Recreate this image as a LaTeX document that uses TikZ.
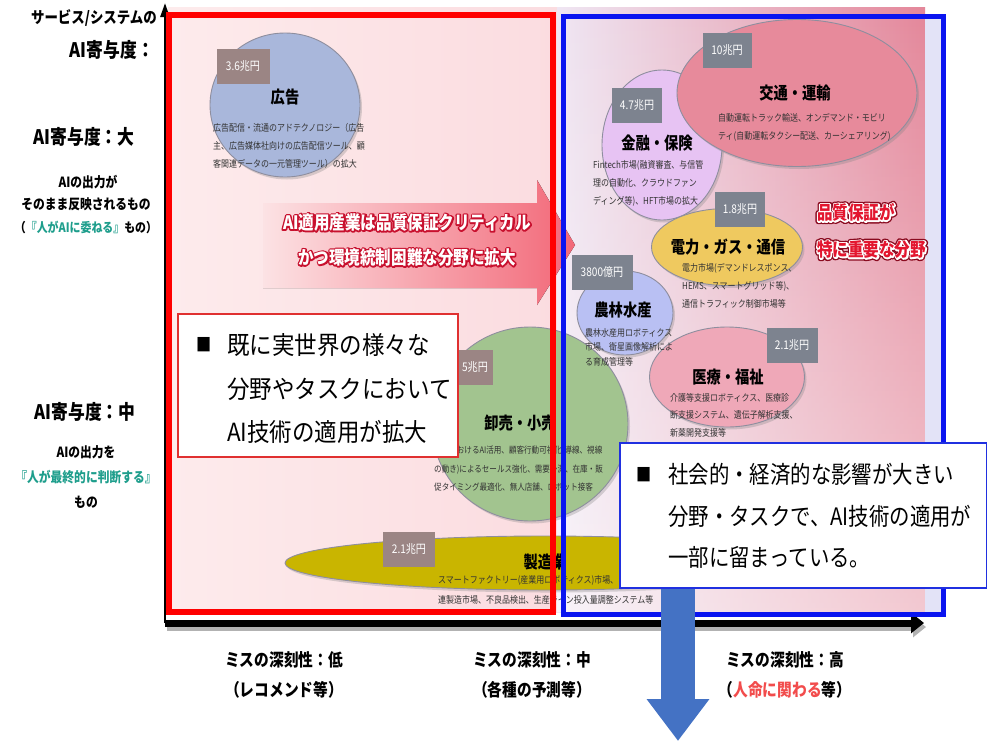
\documentclass[tikz,border=0pt]{standalone}
\usepackage{fontspec}
\usepackage{graphicx}
\setmainfont{Noto Sans CJK JP}[FakeStretch=0.84]
\newfontfamily\jpn{Noto Sans CJK JP}[FakeStretch=0.9]
\newfontfamily\jpnc{Noto Sans CJK JP}[FakeStretch=0.85]
\usetikzlibrary{shapes.geometric,shadows,arrows.meta,fadings}
\definecolor{bgL}{HTML}{FDEBEC}
\definecolor{bgR}{HTML}{FBDCE0}
\definecolor{lavA}{HTML}{EFE6F3}
\definecolor{pinkA}{HTML}{E4879A}
\definecolor{stripc}{HTML}{E3E3F7}
\definecolor{arrL}{HTML}{FCE2E4}
\definecolor{arrR}{HTML}{F26878}
\definecolor{olred}{HTML}{C8102E}
\definecolor{qred}{HTML}{E3162F}
\definecolor{qdark}{HTML}{8A0A1E}
\definecolor{adblue}{HTML}{A9B7DB}
\definecolor{trpink}{HTML}{E78A9B}
\definecolor{finvio}{HTML}{E7C3F3}
\definecolor{engold}{HTML}{EFC95F}
\definecolor{agblue}{HTML}{B9C0F3}
\definecolor{medpink}{HTML}{EFA8B8}
\definecolor{retgreen}{HTML}{A2C48F}
\definecolor{mfolive}{HTML}{C9B500}
\definecolor{valgray}{HTML}{7D838F}
\definecolor{valbrown}{HTML}{9B8584}
\definecolor{frred}{HTML}{FF0000}
\definecolor{frblue}{HTML}{0A14F0}
\definecolor{boxred}{HTML}{E03030}
\definecolor{boxblue}{HTML}{2030E0}
\definecolor{tealc}{HTML}{1E9E8C}
\definecolor{lifered}{HTML}{F24C4C}
\definecolor{ellline}{HTML}{8E8E9E}
\definecolor{arrowblue}{HTML}{4472C4}
\definecolor{smalltxt}{HTML}{333333}
\newcommand{\strokeon}[2]{\special{pdf:literal direct 1 Tr #1 w #2 RG 1 j}}
\newcommand{\strokeoff}{\special{pdf:literal direct 0 Tr}}
\tikzset{
 ell/.style={ellipse, draw=ellline, line width=0.9pt, inner sep=0pt,
   drop shadow={shadow xshift=2pt, shadow yshift=-2.5pt, opacity=0.3}},
 valbox/.style={fill=valgray, text=white, inner sep=0pt, minimum height=35pt,
   font=\fontsize{12}{14}\selectfont},
 ttl/.style={inner sep=0pt, font=\bfseries\fontsize{17}{20}\selectfont},
 small/.style={inner sep=0pt, align=left, text=smalltxt, font=\fontsize{9.5}{18}\selectfont},
 side/.style={inner sep=0pt, font=\bfseries\fontsize{14}{17}\selectfont},
 sidebig/.style={inner sep=0pt, font=\bfseries\fontsize{20}{24}\selectfont},
 bottomlbl/.style={inner sep=0pt, font=\bfseries\fontsize{17.5}{20}\selectfont},
 boxtxt/.style={inner sep=0pt, align=left, anchor=west},
 arrfont/.style={inner sep=0pt, align=center, font=\bfseries\fontsize{18.5}{35}\selectfont},
 qfont/.style={inner sep=0pt, align=left, anchor=west, font=\bfseries\fontsize{18.5}{37}\selectfont},
 axisline/.style={line width=7pt, black, -{Triangle[length=13pt,width=20pt]}},
 axisshadow/.style={line width=7pt, black!30, -{Triangle[length=13pt,width=20pt]}},
 vaxisline/.style={line width=2.5pt, black, -{Triangle[length=14pt,width=9pt]}},
 redframe/.style={draw=frred, line width=6pt},
 blueframe/.style={draw=frblue, line width=5pt},
 bluearr/.style={draw=arrowblue, line width=34pt, -{Triangle[length=42pt,width=60pt]}},
}
\begin{document}
\begin{tikzpicture}[x=1pt,y=-1pt]
\useasboundingbox (0,0) rectangle (988,742);
\fill[white] (0,0) rectangle (988,742);
% backgrounds
\shade[left color=bgL, right color=bgR] (168,7) rectangle (557,612);
\shade[left color=lavA, right color=pinkA] (557,7) rectangle (925,612);
\fill[white, path fading=north, fill opacity=0.55] (557,7) rectangle (925,612);
\fill[stripc] (925,14) rectangle (943,612);
% axes
\coordinate (O) at (165,623);
\coordinate (xend) at (924,623);
\coordinate (yend) at (165,3);
\coordinate (Os) at (167,627);
\coordinate (xends) at (926,627);
\draw[axisshadow] (Os) -- (xends);
\draw[axisline] (O) -- (xend);
\draw[vaxisline] (O) -- (yend);
% big pink arrow
\fill[left color=arrL, right color=arrR] (263,203) -- (537,203) -- (537,180) -- (575,245) -- (537,305) -- (537,288) -- (263,288) -- cycle;
\node[arrfont, text=olred] (arrtxt-o) at (407,240) {\strokeon{3}{0.784 0.063 0.18}AI適用産業は品質保証クリティカル\\かつ環境統制困難な分野に拡大\strokeoff};
\node[arrfont, text=white] (arrtxt) at (407,240) {AI適用産業は品質保証クリティカル\\かつ環境統制困難な分野に拡大};
% ellipses
\node[ell, fill=adblue, minimum width=150pt, minimum height=144pt] (ad) at (285,105) {};
\node[ell, fill=finvio, minimum width=120pt, minimum height=150pt] (fin) at (662,145) {};
\node[ell, fill=trpink, minimum width=240pt, minimum height=147pt] (tr) at (797,93) {};
\node[ell, fill=engold, minimum width=151pt, minimum height=77pt] (en) at (727,247) {};
\node[ell, fill=retgreen, minimum width=196pt, minimum height=194pt] (ret) at (530,424) {};
\node[ell, fill=agblue, minimum width=96pt, minimum height=84pt] (ag) at (625,313) {};
\node[ell, fill=medpink, minimum width=155pt, minimum height=100pt] (med) at (727,377) {};
\node[ell, fill=mfolive, minimum width=520pt, minimum height=54pt] (mf) at (545,563) {};
% value boxes
\node[valbox, fill=valbrown, minimum width=53pt] (v-ad) at (243,66) {3.6兆円};
\node[valbox, minimum width=49pt] (v-tr) at (727,50) {10兆円};
\node[valbox, minimum width=50pt] (v-fin) at (637,105) {4.7兆円};
\node[valbox, minimum width=50pt] (v-en) at (740,209) {1.8兆円};
\node[valbox, minimum width=61pt] (v-ag) at (602,272) {3800億円};
\node[valbox, minimum width=51pt] (v-med) at (792,345) {2.1兆円};
\node[valbox, fill=valbrown, minimum width=36pt] (v-ret) at (475,367) {5兆円};
\node[valbox, fill=valbrown, minimum width=52pt] (v-mf) at (409,549) {2.1兆円};
% titles
\node[ttl] (t-ad) at (285,97) {広告};
\node[ttl] (t-tr) at (795,93) {交通・運輸};
\node[ttl] (t-fin) at (657,143) {金融・保険};
\node[ttl] (t-en) at (728,247) {電力・ガス・通信};
\node[ttl] (t-ag) at (623,310) {農林水産};
\node[ttl] (t-med) at (728,377) {医療・福祉};
\node[ttl] (t-ret) at (520,423) {卸売・小売};
\node[ttl] (t-mf) at (545,562) {製造業};
% small texts
\node[small, anchor=north west] (d-ad) at (213,123) {広告配信・流通のアドテクノロジー（広告\\主、広告媒体社向けの広告配信ツール、顧\\客関連データの一元管理ツール）の拡大};
\node[small, anchor=north west] (d-tr) at (718,113) {自動運転トラック輸送、オンデマンド・モビリ\\ティ(自動運転タクシー配送、カーシェアリング)};
\node[small, anchor=north west] (d-fin) at (593,160) {Fintech市場(融資審査、与信管\\理の自動化、クラウドファン\\ディング等)、HFT市場の拡大};
\node[small, anchor=north west] (d-en) at (682,263) {電力市場(デマンドレスポンス、\\HEMS、スマートグリッド等)、\\通信トラフィック制御市場等};
\node[small, anchor=north west, font=\fontsize{9.5}{14.5}\selectfont] (d-ag) at (585,328) {農林水産用ロボティクス\\市場、衛星画像解析によ\\る育成管理等};
\node[small, anchor=north west, font=\fontsize{9.5}{17.5}\selectfont] (d-med) at (670,393) {介護等支援ロボティクス、医療診\\断支援システム、遺伝子解析支援、\\新薬開発支援等};
\node[small, anchor=north west, font=\fontsize{9}{18.5}\selectfont] (d-ret) at (434,446) {店舗におけるAI活用、顧客行動可視化(導線、視線\\の動き)によるセールス強化、需要予測、在庫・販\\促タイミング最適化、無人店舗、ロボット接客};
\node[small, anchor=north west, font=\fontsize{9.5}{20}\selectfont] (d-mf) at (438,575) {スマートファクトリー(産業用ロボティクス)市場、\\連製造市場、不良品検出、生産ライン投入量調整システム等};
% quality label
\node[qfont, text=qdark] (qtxt-g) at (817,231) {\strokeon{5.5}{0.54 0.04 0.12}品質保証が\\特に重要な分野\strokeoff};
\node[qfont, text=white] (qtxt-o) at (817,231) {\strokeon{2.8}{1 1 1}品質保証が\\特に重要な分野\strokeoff};
\node[qfont, text=qred] (qtxt) at (817,231) {品質保証が\\特に重要な分野};
% frames
\draw[redframe] (169,15) rectangle (553,612);
\draw[blueframe] (563,16) rectangle (943,614);
% text boxes
\node[draw=boxred, line width=1.3pt, fill=white, minimum width=280pt, minimum height=143pt, inner sep=0pt] (lbox) at (318,385.5) {};
\node[inner sep=0pt, font=\fontsize{18}{20}\selectfont] (lbul) at (204,345) {■};
\node[boxtxt, font=\jpn\fontsize{25}{43.5}\selectfont] (ltxt) at (227,389) {既に実世界の様々な\\分野やタスクにおいて\\AI技術の適用が拡大};
\node[draw=boxblue, line width=1.3pt, fill=white, minimum width=366.5pt, minimum height=145pt, inner sep=0pt] (rbox) at (803.25,515.5) {};
\node[inner sep=0pt, font=\fontsize{18}{20}\selectfont] (rbul) at (644,475) {■};
\node[boxtxt, font=\jpnc\fontsize{24}{41.5}\selectfont] (rtxt) at (668,516) {社会的・経済的な影響が大きい\\分野・タスクで、AI技術の適用が\\一部に留まっている。};
% blue arrow
\coordinate (atip) at (678,741);
\draw[bluearr] (rbox.south -| atip) -- (atip);
% left labels
\node[anchor=east, inner sep=0pt, font=\bfseries\fontsize{16}{18}\selectfont] (yl1) at (157,18) {サービス/システムの};
\node[anchor=east, sidebig] (yl2) at (154,50) {AI寄与度：};
\node[sidebig] (yl3) at (84,137) {AI寄与度：大};
\node[side] (yl4) at (88,182) {AIの出力が};
\node[side] (yl5) at (86,204) {そのまま反映されるもの};
\node[side, font=\bfseries\fontsize{13}{16}\selectfont] (yl6) at (86,227) {（\textcolor{tealc}{『人がAIに委ねる』}もの）};
\node[sidebig] (yl7) at (85,412) {AI寄与度：中};
\node[side] (yl8) at (86,452) {AIの出力を};
\node[side, text=tealc] (yl9) at (86,477) {『人が最終的に判断する』};
\node[side] (yl10) at (86,502) {もの};
% bottom labels
\node[bottomlbl] (xl1) at (284,660) {ミスの深刻性：低};
\node[bottomlbl] (xl2) at (284,690) {（レコメンド等）};
\node[bottomlbl] (xl3) at (532,660) {ミスの深刻性：中};
\node[bottomlbl] (xl4) at (532,690) {（各種の予測等）};
\node[bottomlbl] (xl5) at (785,660) {ミスの深刻性：高};
\node[bottomlbl] (xl6) at (785,690) {（\textcolor{lifered}{人命に関わる}等）};
\end{tikzpicture}
\end{document}
